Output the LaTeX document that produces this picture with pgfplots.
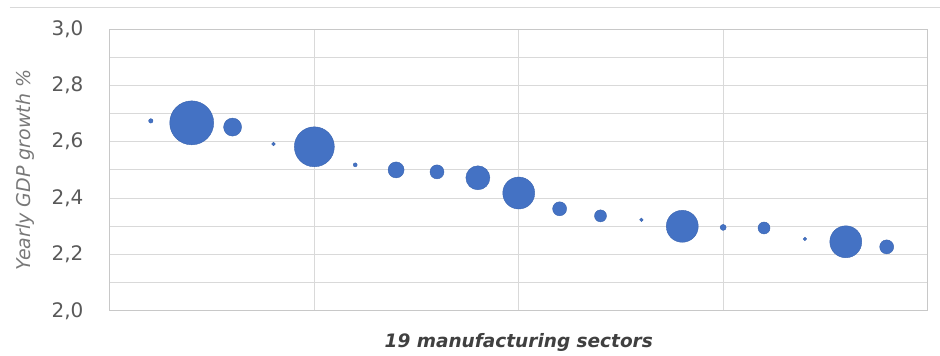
\documentclass[border=0pt]{standalone}
\usepackage{fontspec}
\setmainfont{DejaVu Sans}
\usepackage{pgfplots}
\usepackage{pgfplotstable}
\pgfplotsset{compat=1.18}
\definecolor{bub}{RGB}{68,114,196}
\definecolor{bubedge}{RGB}{58,100,175}
\definecolor{gridgray}{RGB}{217,217,217}
\definecolor{bordergray}{RGB}{200,200,200}
\definecolor{tickgray}{RGB}{89,89,89}
\definecolor{ylabgray}{RGB}{120,120,120}
\definecolor{xlabgray}{RGB}{64,64,64}
\pgfplotstableread{
x y r
1 2.674 2.2
2 2.667 22
3 2.652 9
4 2.592 1.8
5 2.582 20
6 2.518 2
7 2.500 8
8 2.493 7
9 2.472 12
10 2.418 16
11 2.362 7
12 2.337 6
13 2.323 1.8
14 2.300 16
15 2.296 3
16 2.294 6
17 2.255 1.8
18 2.245 16
19 2.227 7
}\bubbles
\begin{document}
\begin{tikzpicture}
\begin{axis}[
  name=ax,
  scale only axis,
  width=818pt, height=282pt,
  xmin=0, xmax=20, ymin=2, ymax=3,
  xtick={0,5,10,15,20}, xticklabels={},
  ytick={2.0,2.2,2.4,2.6,2.8,3.0},
  minor ytick={2.1,2.3,2.5,2.7,2.9},
  grid=both,
  major grid style={draw=gridgray, line width=0.9pt},
  minor grid style={draw=gridgray, line width=0.9pt},
  axis line style={draw=bordergray, line width=0.9pt},
  tick style={draw=none},
  /pgf/number format/assume math mode=true,
  yticklabel style={/pgf/number format/use comma, /pgf/number format/fixed, /pgf/number format/fixed zerofill, /pgf/number format/precision=1,
    font=\fontsize{20}{20}\selectfont, text=tickgray, xshift=-23pt},
  every axis y label/.style={at={(axis description cs:0,0.5)}, xshift=-85pt, rotate=90, anchor=center,
    font=\fontsize{19}{19}\selectfont\itshape, text=ylabgray},
  every axis x label/.style={at={(axis description cs:0.5,0)}, anchor=base, yshift=-37pt,
    font=\fontsize{18.5}{18.5}\selectfont\bfseries\itshape, text=xlabgray},
  ylabel={Yearly GDP growth \%},
  xlabel={19 manufacturing sectors},
]
\addplot[only marks, mark=*, scatter,
  scatter/use mapped color={draw=bubedge, fill=bub},
  visualization depends on={\thisrow{r} \as \rad},
  scatter/@pre marker code/.append style={/tikz/mark size=\rad pt}]
  table[x=x, y=y] {\bubbles};
\end{axis}
\draw[gridgray, line width=0.9pt] ([xshift=-100pt,yshift=22pt]ax.north west) -- ([xshift=12pt,yshift=22pt]ax.north east);
\path[use as bounding box] ([xshift=-110pt,yshift=-40pt]ax.south west) rectangle ([xshift=12pt,yshift=29pt]ax.north east);
\end{tikzpicture}
\end{document}
